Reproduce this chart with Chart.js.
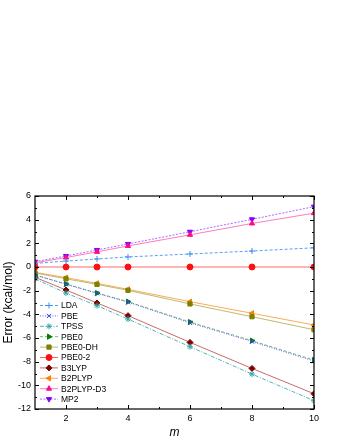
<!DOCTYPE html>
<html><head><meta charset="utf-8">
<script src="https://cdn.jsdelivr.net/npm/chart.js@4"></script>
<style>html,body{margin:0;padding:0;background:#fff}#wrap{width:340px;height:440px;position:relative}</style>
</head><body><div id="wrap"><canvas id="c"></canvas></div>
<script>
const mValues=[1,2,3,4,6,8,10];
const LDA=[0.30,0.50,0.68,0.85,1.10,1.35,1.62];
const PBE=[-0.66,-1.46,-2.22,-2.97,-4.72,-6.30,-7.95];
const TPSS=[-1.00,-2.20,-3.27,-4.40,-6.74,-9.05,-11.30];
const PBE0=[-0.68,-1.44,-2.20,-2.93,-4.65,-6.23,-7.86];
const PBE0_DH=[-0.50,-1.00,-1.47,-1.97,-3.12,-4.20,-5.30];
const PBE0_2=[0,0,0,0,0,0,0];
const B3LYP=[-0.87,-1.94,-3.04,-4.11,-6.37,-8.57,-10.71];
const B2PLYP=[-0.45,-0.90,-1.38,-1.89,-2.93,-3.91,-4.90];
const B2PLYP_D3=[0.36,0.80,1.28,1.78,2.72,3.68,4.55];
const MP2=[0.45,0.93,1.44,1.95,2.98,4.03,5.10];
const seriesNames=['LDA','PBE','TPSS','PBE0','PBE0-DH','PBE0-2','B3LYP','B2PLYP','B2PLYP-D3','MP2'];
const xTicks=[2,4,6,8,10];
const yTicks=[-12,-10,-8,-6,-4,-2,0,2,4,6];
const xTitle='m';
const yTitle='Error (kcal/mol)';

const FONT='"Liberation Sans", Arial, sans-serif';
const styles=[
 {line:'rgba(70,150,240,0.9)',pt:'#3a8ee8',ps:'cross',rot:0,dash:[3,2]},
 {line:'rgba(60,60,255,0.8)',pt:'#3040ff',ps:'crossRot',rot:0,dash:[1,1.5]},
 {line:'rgba(40,160,160,0.8)',pt:'#30a8a8',ps:'star',rot:0,dash:[4,1.5,1,1.5]},
 {line:'rgba(80,170,80,0.8)',pt:'#008000',ps:'triangle',rot:90,dash:[3,2]},
 {line:'rgba(170,170,80,0.8)',pt:'#808000',ps:'rect',rot:0,dash:[]},
 {line:'rgba(250,90,90,0.9)',pt:'#ff1010',ps:'circle',rot:0,dash:[]},
 {line:'rgba(190,80,80,0.85)',pt:'#800000',ps:'rectRot',rot:0,dash:[]},
 {line:'rgba(255,160,70,0.9)',pt:'#ff8000',ps:'triangle',rot:-90,dash:[]},
 {line:'rgba(255,110,180,0.9)',pt:'#ff0a8c',ps:'triangle',rot:0,dash:[]},
 {line:'rgba(160,90,255,0.9)',pt:'#8000ff',ps:'triangle',rot:180,dash:[2,1.5]}
];
const allData=[LDA,PBE,TPSS,PBE0,PBE0_DH,PBE0_2,B3LYP,B2PLYP,B2PLYP_D3,MP2];

const datasets=allData.map((arr,i)=>({
  label:seriesNames[i],
  data:mValues.map((m,j)=>({x:m,y:arr[j]})),
  borderColor:styles[i].line,
  borderWidth:1,
  borderDash:styles[i].dash,
  backgroundColor:styles[i].pt,
  pointBackgroundColor:styles[i].pt,
  pointBorderColor:styles[i].pt,
  pointBorderWidth:1,
  pointStyle:styles[i].ps,
  pointRotation:styles[i].rot,
  pointRadius:3,
  fill:false,
  tension:0
}));

function drawMarker(ctx,st,x,y,r){
  const h=Chart.helpers;
  if(h&&h.drawPoint){
    ctx.fillStyle=st.pt;ctx.strokeStyle=st.pt;ctx.lineWidth=1;ctx.setLineDash([]);
    h.drawPoint(ctx,{pointStyle:st.ps,rotation:st.rot,radius:r,borderWidth:1},x,y);
  }
}

const framePlugin={
  id:'frame',
  afterDatasetsDraw(chart){
    const {ctx,chartArea:a,scales:{x,y}}=chart;
    ctx.save();
    ctx.setLineDash([]);
    ctx.strokeStyle='#000';
    ctx.lineWidth=1.2;
    ctx.strokeRect(a.left,a.top,a.right-a.left,a.bottom-a.top);
    ctx.lineWidth=1;
    const maj=4,min=2;
    const xs=xTicks, ys=yTicks;
    const xMinor=[];for(let i=0;i<xs.length-1;i++)xMinor.push((xs[i]+xs[i+1])/2);
    const yMinor=[];for(let i=0;i<ys.length-1;i++)yMinor.push((ys[i]+ys[i+1])/2);
    ctx.beginPath();
    xs.forEach(v=>{const p=Math.round(x.getPixelForValue(v))+0.5;ctx.moveTo(p,a.bottom);ctx.lineTo(p,a.bottom-maj);ctx.moveTo(p,a.top);ctx.lineTo(p,a.top+maj);});
    xMinor.forEach(v=>{const p=Math.round(x.getPixelForValue(v))+0.5;ctx.moveTo(p,a.bottom);ctx.lineTo(p,a.bottom-min);ctx.moveTo(p,a.top);ctx.lineTo(p,a.top+min);});
    ys.forEach(v=>{const p=Math.round(y.getPixelForValue(v))+0.5;ctx.moveTo(a.left,p);ctx.lineTo(a.left+maj,p);ctx.moveTo(a.right,p);ctx.lineTo(a.right-maj,p);});
    yMinor.forEach(v=>{const p=Math.round(y.getPixelForValue(v))+0.5;ctx.moveTo(a.left,p);ctx.lineTo(a.left+min,p);ctx.moveTo(a.right,p);ctx.lineTo(a.right-min,p);});
    ctx.stroke();
    // legend
    const x0=40,x1=58,tx=61,y0=305.5,dy=10.4;
    ctx.font='8.5px '+FONT;
    ctx.textBaseline='middle';
    seriesNames.forEach((n,i)=>{
      const st=styles[i];const yy=y0+i*dy;
      ctx.strokeStyle=st.line;ctx.lineWidth=1;ctx.setLineDash(st.dash);
      ctx.beginPath();ctx.moveTo(x0,yy);ctx.lineTo(x1,yy);ctx.stroke();
      ctx.setLineDash([]);
      drawMarker(ctx,st,(x0+x1)/2,yy,3);
      ctx.fillStyle='#000';
      ctx.fillText(n,tx,yy+0.5);
    });
    ctx.restore();
  }
};

new Chart(document.getElementById('c'),{
  type:'line',
  data:{datasets},
  options:{
    responsive:true,maintainAspectRatio:false,animation:false,
    layout:{padding:{top:196,right:26,left:0,bottom:0}},
    plugins:{legend:{display:false},tooltip:{enabled:false}},
    scales:{
      x:{type:'linear',min:1,max:10,
        afterBuildTicks:s=>{s.ticks=xTicks.map(v=>({value:v}));},
        afterFit:s=>{s.height=31;},
        grid:{display:false,drawTicks:false,tickLength:0},border:{display:false},
        ticks:{color:'#000',font:{size:9,family:FONT},padding:4,maxRotation:0,autoSkip:false},
        title:{display:true,text:xTitle,color:'#000',font:{size:12,style:'italic',family:FONT},padding:{top:0,bottom:0}}
      },
      y:{type:'linear',min:-12,max:6,
        afterBuildTicks:s=>{s.ticks=yTicks.map(v=>({value:v}));},
        afterFit:s=>{s.width=35;},
        grid:{display:false,drawTicks:false,tickLength:0},border:{display:false},
        ticks:{color:'#000',font:{size:9,family:FONT},padding:4,autoSkip:false},
        title:{display:true,text:yTitle,color:'#000',font:{size:12,family:FONT},padding:{top:1,bottom:0}}
      }
    }
  },
  plugins:[framePlugin]
});
</script></body></html>
